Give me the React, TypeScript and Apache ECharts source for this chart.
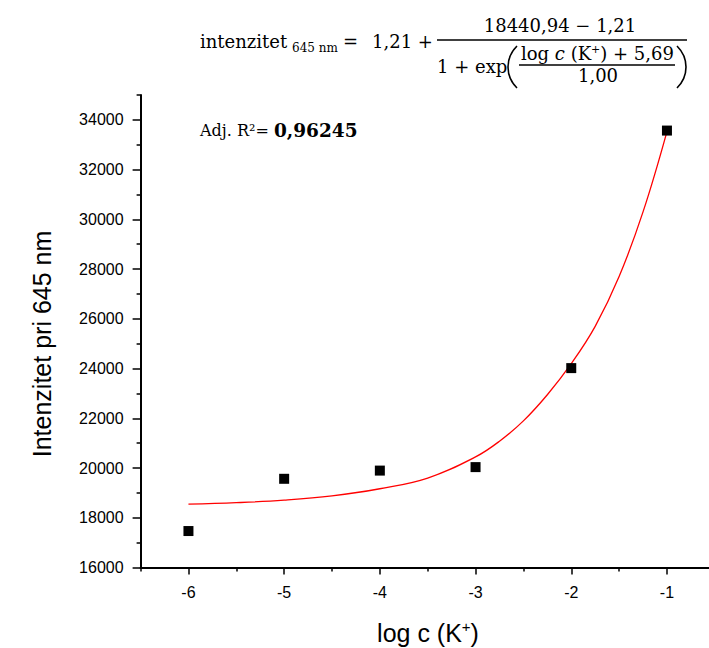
import React, { useEffect, useRef } from "react";
import * as echarts from "echarts";

const xPoints = [-6, -5, -4, -3, -2, -1];
const yPoints = [17470, 19570, 19900, 20040, 24020, 33570];

const fitX = [-6, -5.5, -5, -4.5, -4, -3.5, -3, -2.75, -2.5, -2.25, -2, -1.75, -1.5, -1.25, -1];
const fitY = [18550, 18610, 18710, 18880, 19170, 19600, 20450, 21080, 21900, 22950, 24200, 25700, 27700, 30300, 33530];

const xMajorTicks = [-6, -5, -4, -3, -2, -1];
const xMinorTicks = [-6.5, -5.5, -4.5, -3.5, -2.5, -1.5, -0.5];
const yMajorTicks = [16000, 18000, 20000, 22000, 24000, 26000, 28000, 30000, 32000, 34000];
const yMinorTicks = [17000, 19000, 21000, 23000, 25000, 27000, 29000, 31000, 33000, 35000];

const SERIF = "DejaVu Serif";
const SANS = "Liberation Sans, Arial, sans-serif";

function txt(x: number, y: number, text: string, fs: number, extra: any = {}) {
  return {
    type: "text",
    x,
    y,
    silent: true,
    style: {
      text,
      fontSize: fs,
      fontFamily: SERIF,
      fill: "#000",
      align: extra.align || "left",
      textAlign: extra.align || "left",
      verticalAlign: "middle",
      textVerticalAlign: "middle",
      ...extra.style,
    },
  };
}

export default function App() {
  const ref = useRef<HTMLDivElement>(null);
  useEffect(() => {
    if (!ref.current) return;
    const chart = echarts.init(ref.current, undefined, { renderer: "svg" });
    const axisBase = {
      type: "value",
      splitLine: { show: false },
      axisLine: { show: true, lineStyle: { color: "#000", width: 2 } },
    };
    const option: any = {
      animation: false,
      backgroundColor: "#fff",
      grid: {
        left: 140.6,
        top: 95,
        width: 574.2,
        height: 472.6,
        containLabel: false,
        outerBoundsMode: "none",
      },
      xAxis: [
        {
          ...axisBase,
          min: -6.5,
          max: -0.5,
          interval: 0.5,
          position: "bottom",
          axisTick: {
            show: true,
            inside: false,
            length: 7,
            customValues: xMajorTicks,
            lineStyle: { color: "#000", width: 1.5 },
          },
          axisLabel: {
            show: true,
            customValues: xMajorTicks,
            formatter: (v: number) => String(v),
            fontSize: 16,
            fontFamily: SANS,
            color: "#000",
            margin: 17,
          },
        },
        {
          ...axisBase,
          min: -6.5,
          max: -0.5,
          interval: 0.5,
          position: "bottom",
          axisLine: { show: false },
          axisTick: {
            show: true,
            inside: false,
            length: 4,
            customValues: xMinorTicks,
            lineStyle: { color: "#000", width: 1.5 },
          },
          axisLabel: { show: false },
        },
      ],
      yAxis: [
        {
          ...axisBase,
          min: 16000,
          max: 35000,
          interval: 1000,
          position: "left",
          axisTick: {
            show: true,
            inside: false,
            length: 8,
            customValues: yMajorTicks,
            lineStyle: { color: "#000", width: 1.5 },
          },
          axisLabel: {
            show: true,
            customValues: yMajorTicks,
            formatter: (v: number) => String(v),
            fontSize: 16,
            fontFamily: SANS,
            color: "#000",
            margin: 17,
          },
        },
        {
          ...axisBase,
          min: 16000,
          max: 35000,
          interval: 1000,
          position: "left",
          axisLine: { show: false },
          axisTick: {
            show: true,
            inside: false,
            length: 4,
            customValues: yMinorTicks,
            lineStyle: { color: "#000", width: 1.5 },
          },
          axisLabel: { show: false },
        },
      ],
      series: [
        {
          type: "line",
          xAxisIndex: 0,
          yAxisIndex: 0,
          data: fitX.map((x, i) => [x, fitY[i]]),
          smooth: 0.4,
          showSymbol: false,
          symbol: "none",
          lineStyle: { color: "#ff0000", width: 1.3 },
          z: 2,
        },
        {
          type: "scatter",
          xAxisIndex: 0,
          yAxisIndex: 0,
          data: xPoints.map((x, i) => [x, yPoints[i]]),
          symbol: "rect",
          symbolSize: 10,
          itemStyle: { color: "#000", opacity: 1 },
          z: 3,
        },
      ],
      graphic: [
        txt(200, 41.7, "intenzitet", 18),
        txt(292, 47.8, "645 nm", 12),
        txt(343, 41.7, "=", 18),
        txt(372, 41.7, "1,21 +", 18),
        {
          type: "line",
          silent: true,
          shape: { x1: 437, y1: 40, x2: 687, y2: 40 },
          style: { stroke: "#000", lineWidth: 1.4 },
        },
        txt(560, 25.7, "18440,94 − 1,21", 18, { align: "center" }),
        txt(437, 66.7, "1 + exp", 18),
        {
          type: "bezierCurve",
          silent: true,
          shape: { x1: 517, y1: 46, cpx1: 505, cpy1: 58, cpx2: 505, cpy2: 76, x2: 517, y2: 88 },
          style: { stroke: "#000", lineWidth: 1.6, fill: null },
        },
        {
          type: "text",
          x: 521,
          y: 53.7,
          silent: true,
          style: {
            text: "{n|log }{i|c}{n| (K}{s|+}{n|) + 5,69}",
            fontSize: 18,
            fontFamily: SERIF,
            fill: "#000",
            align: "left",
            textAlign: "left",
            verticalAlign: "middle",
            textVerticalAlign: "middle",
            rich: {
              n: { fontSize: 18, fontFamily: SERIF, lineHeight: 20, fill: "#000" },
              i: { fontSize: 18, fontFamily: SERIF, fontStyle: "italic", lineHeight: 20, fill: "#000" },
              s: { fontSize: 11, fontFamily: SERIF, lineHeight: 12, verticalAlign: "top", fill: "#000" },
            },
          },
        },
        {
          type: "line",
          silent: true,
          shape: { x1: 519, y1: 65, x2: 675, y2: 65 },
          style: { stroke: "#000", lineWidth: 1.4 },
        },
        txt(598, 75.7, "1,00", 18, { align: "center" }),
        {
          type: "bezierCurve",
          silent: true,
          shape: { x1: 677, y1: 46, cpx1: 689, cpy1: 58, cpx2: 689, cpy2: 76, x2: 677, y2: 88 },
          style: { stroke: "#000", lineWidth: 1.6, fill: null },
        },
        {
          type: "text",
          x: 200,
          y: 130,
          silent: true,
          style: {
            text: "{a|Adj. R²= }{b|0,96245}",
            fontSize: 17,
            fontFamily: SERIF,
            fill: "#000",
            align: "left",
            textAlign: "left",
            verticalAlign: "middle",
            textVerticalAlign: "middle",
            rich: {
              a: { fontSize: 16, fontFamily: SERIF, fill: "#000" },
              b: { fontSize: 18.5, fontFamily: SERIF, fontWeight: "bold", fill: "#000" },
            },
          },
        },
        {
          type: "text",
          x: 42,
          y: 344,
          rotation: Math.PI / 2,
          silent: true,
          style: {
            text: "Intenzitet pri 645 nm",
            fontSize: 25,
            fontFamily: SANS,
            fill: "#000",
            align: "center",
            textAlign: "center",
            verticalAlign: "middle",
            textVerticalAlign: "middle",
          },
        },
        {
          type: "text",
          x: 428,
          y: 633,
          silent: true,
          style: {
            text: "{n|log c (K}{s|+}{n|)}",
            fontSize: 25,
            fontFamily: SANS,
            fill: "#000",
            align: "center",
            textAlign: "center",
            verticalAlign: "middle",
            textVerticalAlign: "middle",
            rich: {
              n: { fontSize: 25, fontFamily: SANS, lineHeight: 29, fill: "#000" },
              s: { fontSize: 15, fontFamily: SANS, lineHeight: 15, verticalAlign: "top", fill: "#000" },
            },
          },
        },
      ],
    };
    chart.setOption(option);
    return () => chart.dispose();
  }, []);
  return (
    <div
      ref={ref}
      style={{ position: "fixed", left: 0, top: 0, width: 709, height: 648, background: "#fff" }}
    />
  );
}
